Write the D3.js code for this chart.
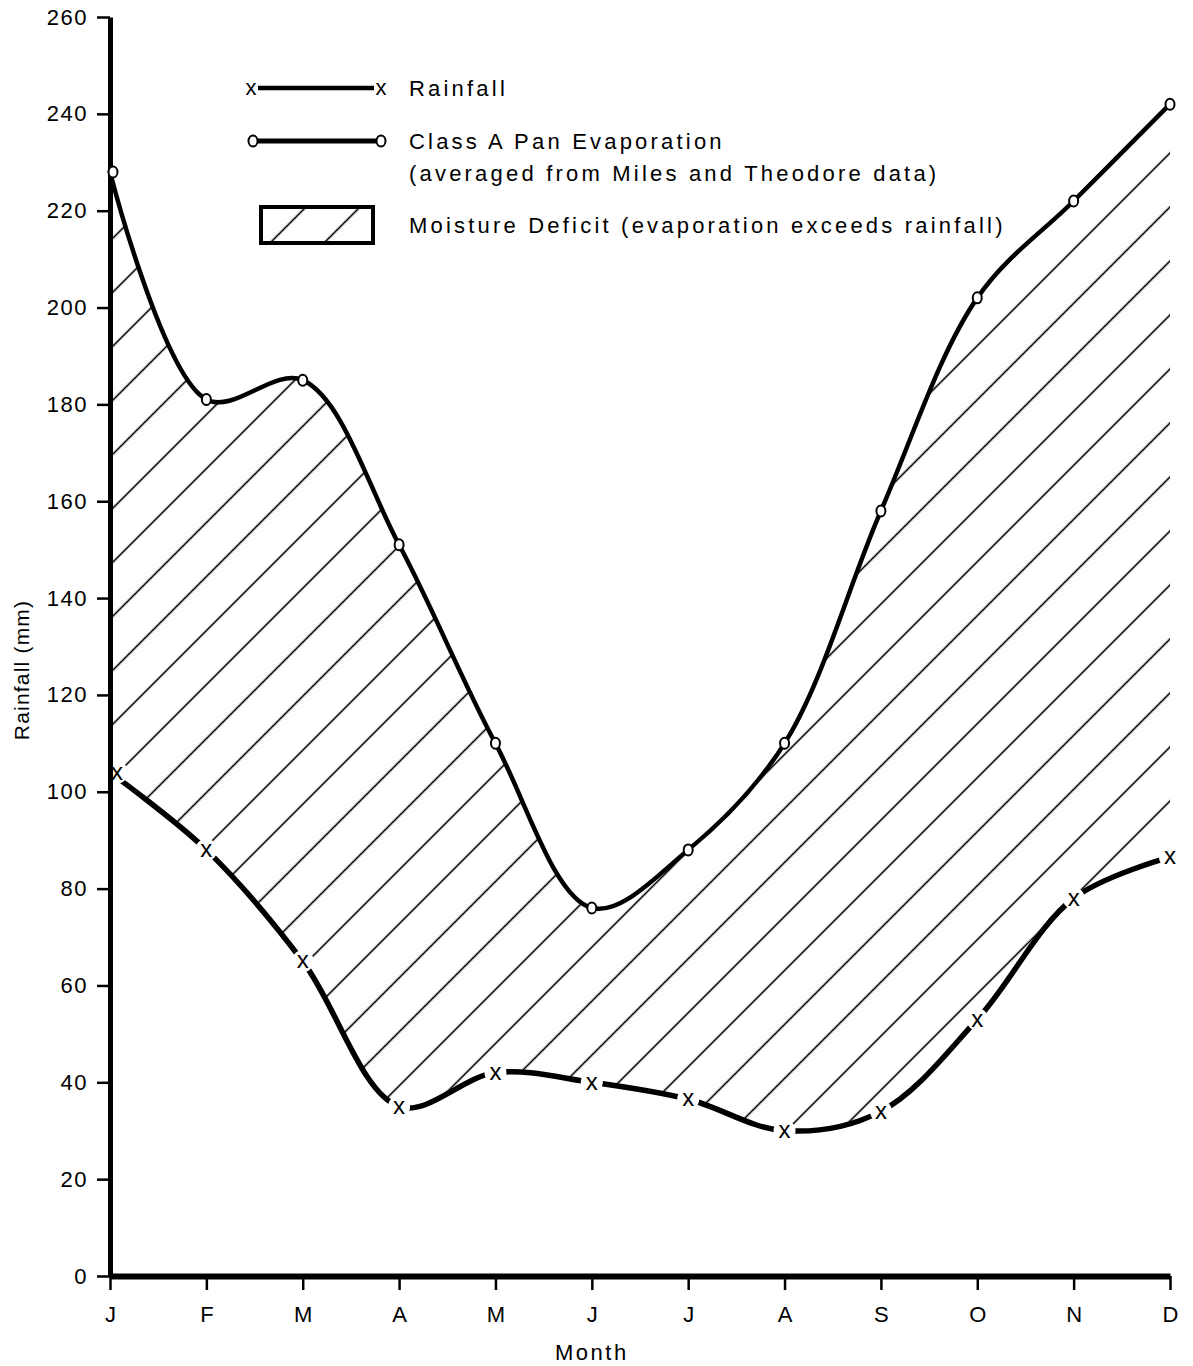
<!DOCTYPE html>
<html lang="en">
<head>
<meta charset="UTF-8">
<title>Rainfall and Pan Evaporation</title>
<script src="https://d3js.org/d3.v7.min.js"></script>
<style>
  body { margin: 0; background: #fff; }
  svg { display: block; font-family: "Liberation Sans", Arial, Helvetica, sans-serif; }
  .legend text { font-size: 22px; letter-spacing: 3.2px; fill: #000; }
</style>
</head>
<body>
<svg width="1193" height="1366"></svg>
<script>
const months = ["J", "F", "M", "A", "M", "J", "J", "A", "S", "O", "N", "D"];
const rainfall = [104, 88, 65, 35, 42, 40, 36.5, 30, 34, 53, 78, 86.5];
const evaporation = [228, 181, 185, 151, 110, 76, 88, 110, 158, 202, 222, 242];
const yTicks = d3.range(0, 261, 20);

const svg = d3.select("svg"),
      margin = {top: 17, right: 23, bottom: 90, left: 110},
      width = +svg.attr("width") - margin.left - margin.right,
      height = +svg.attr("height") - margin.top - margin.bottom;

const FONT = '"Liberation Sans", Arial, Helvetica, sans-serif';

const defs = svg.append("defs");
// diagonal hatching; phase set so lines fall where x + y = 27 (mod 54) on the page
function hatch(id, shiftX, shiftY) {
  const p = defs.append("pattern")
      .attr("id", id)
      .attr("patternUnits", "userSpaceOnUse")
      .attr("width", 54 / Math.SQRT2)
      .attr("height", 20)
      .attr("patternTransform", `translate(${shiftX},${shiftY}) rotate(45)`);
  p.append("line")
      .attr("x1", 27 / Math.SQRT2).attr("x2", 27 / Math.SQRT2)
      .attr("y1", -5).attr("y2", 25)
      .attr("stroke", "#000").attr("stroke-width", 1.6);
}
hatch("hatch", -margin.left, -margin.top);
hatch("hatch-legend", 0, 0);

const g = svg.append("g").attr("transform", `translate(${margin.left},${margin.top})`);

const x = d3.scaleLinear().domain([0, months.length - 1]).range([0, width]);
const y = d3.scaleLinear().domain([0, 260]).range([height, 0]);

const curve = d3.curveCatmullRom.alpha(0.5);

// moisture deficit area
g.append("path")
    .datum(months.map((m, i) => i))
    .attr("fill", "url(#hatch)")
    .attr("d", d3.area().curve(curve)
        .x(i => x(i))
        .y0(i => y(rainfall[i]))
        .y1(i => y(evaporation[i])));

const line = d3.line().curve(curve).x((d, i) => x(i)).y(d => y(d));

g.append("path")
    .datum(evaporation)
    .attr("fill", "none").attr("stroke", "#000")
    .attr("stroke-width", 4.5).attr("stroke-linecap", "round")
    .attr("d", line);

g.append("path")
    .datum(rainfall)
    .attr("fill", "none").attr("stroke", "#000")
    .attr("stroke-width", 5.5).attr("stroke-linecap", "round")
    .attr("d", line);

const rx = (d, i) => x(i) + (i === 0 ? 7 : 0);

// white gaps around rainfall markers
g.selectAll(".gap")
    .data(rainfall)
    .enter().append("circle")
    .attr("class", "gap")
    .attr("cx", rx)
    .attr("cy", d => y(d))
    .attr("r", 11)
    .attr("fill", "#fff");

// axes
const yAxis = g.append("g")
    .call(d3.axisLeft(y).tickValues(yTicks).tickSize(13).tickPadding(9).tickSizeOuter(0))
    .attr("font-size", 22).attr("font-family", FONT);
yAxis.select(".domain").attr("stroke-width", 5);
yAxis.selectAll(".tick line").attr("stroke-width", 2.5);
yAxis.selectAll(".tick text").attr("letter-spacing", 1.5).attr("fill", "#000");

const xAxis = g.append("g")
    .attr("transform", `translate(0,${height})`)
    .call(d3.axisBottom(x).tickValues(d3.range(months.length))
        .tickFormat(i => months[i]).tickSize(14).tickPadding(16).tickSizeOuter(0))
    .attr("font-size", 22).attr("font-family", FONT);
xAxis.select(".domain").attr("stroke-width", 6);
xAxis.selectAll(".tick line").attr("stroke-width", 2.5);
xAxis.selectAll(".tick text").attr("fill", "#000");

// markers
g.selectAll(".rmark")
    .data(rainfall)
    .enter().append("text")
    .attr("class", "rmark")
    .attr("x", rx)
    .attr("y", d => y(d))
    .attr("dy", "0.3em")
    .attr("text-anchor", "middle")
    .attr("font-size", 24)
    .text("x");

g.selectAll(".emark")
    .data(evaporation)
    .enter().append("ellipse")
    .attr("class", "emark")
    .attr("cx", (d, i) => x(i) + (i === 0 ? 3 : 0))
    .attr("cy", d => y(d))
    .attr("rx", 4.5).attr("ry", 5.5)
    .attr("fill", "#fff").attr("stroke", "#000").attr("stroke-width", 2);

// axis titles
svg.append("text")
    .attr("x", margin.left + x(5))
    .attr("y", 1360)
    .attr("text-anchor", "middle")
    .attr("font-size", 22)
    .attr("letter-spacing", 2.5)
    .text("Month");

svg.append("text")
    .attr("transform", "translate(29,670) rotate(-90)")
    .attr("text-anchor", "middle")
    .attr("font-size", 21)
    .attr("letter-spacing", 1.2)
    .text("Rainfall (mm)");

// legend
const lg = svg.append("g").attr("class", "legend");
lg.append("line").attr("x1", 258).attr("x2", 374).attr("y1", 88).attr("y2", 88)
    .attr("stroke", "#000").attr("stroke-width", 4.5);
lg.selectAll(".lx").data([251, 381]).enter().append("text")
    .attr("x", d => d).attr("y", 88).attr("dy", "0.3em")
    .attr("text-anchor", "middle").attr("style", "letter-spacing:0").text("x");
lg.append("line").attr("x1", 256).attr("x2", 378).attr("y1", 141).attr("y2", 141)
    .attr("stroke", "#000").attr("stroke-width", 5);
lg.selectAll(".lo").data([253, 381]).enter().append("ellipse")
    .attr("cx", d => d).attr("cy", 141).attr("rx", 4.5).attr("ry", 5.5)
    .attr("fill", "#fff").attr("stroke", "#000").attr("stroke-width", 2);
lg.append("rect").attr("x", 261).attr("y", 207).attr("width", 112).attr("height", 36)
    .attr("fill", "url(#hatch-legend)").attr("stroke", "#000").attr("stroke-width", 4);

const legendText = [
  ["Rainfall", 96],
  ["Class A Pan Evaporation", 149],
  ["(averaged from Miles and Theodore data)", 181],
  ["Moisture Deficit (evaporation exceeds rainfall)", 233]
];
lg.selectAll(".lt").data(legendText).enter().append("text")
    .attr("x", 409).attr("y", d => d[1]).text(d => d[0]);
</script>
</body>
</html>
